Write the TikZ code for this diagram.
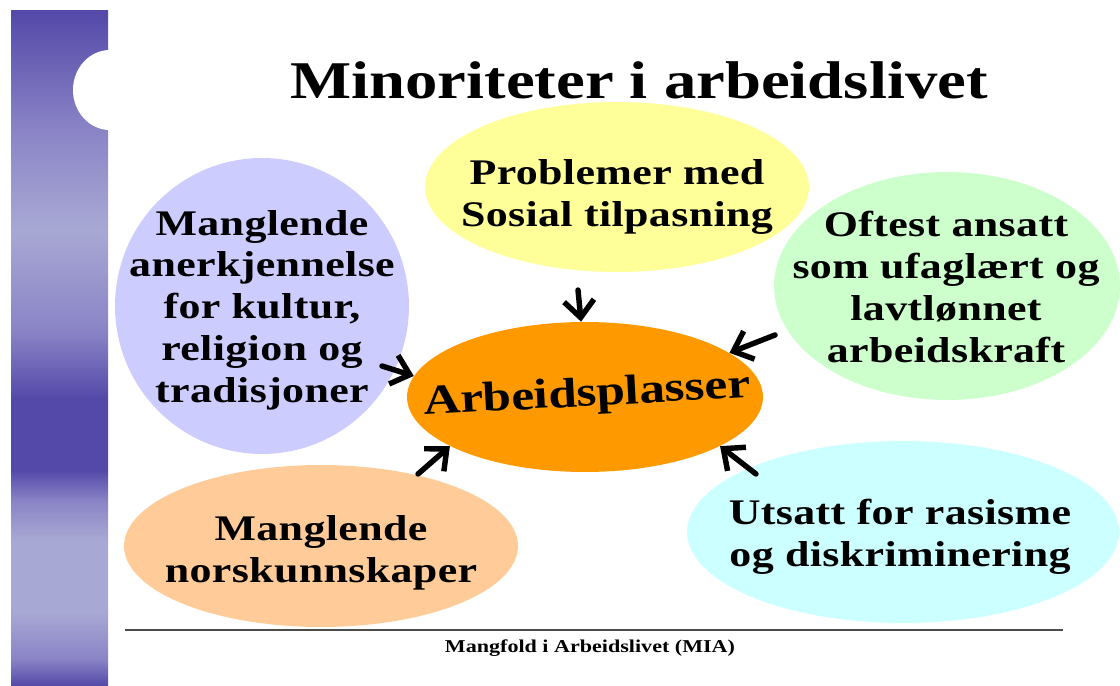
\documentclass[tikz,border=0pt]{standalone}
\usepackage{fontspec}
\setmainfont{Liberation Serif}[FakeStretch=1.22]
\newfontfamily\bobletekst{Liberation Serif}[FakeStretch=1.22,LetterSpace=1]
\usetikzlibrary{shapes.geometric,arrows.meta}

\definecolor{stripemork}{HTML}{5448A8}
\definecolor{stripemid}{HTML}{8A84C6}
\definecolor{stripelys}{HTML}{A8A8D4}
\definecolor{lilla}{HTML}{CCCCFF}
\definecolor{gul}{HTML}{FFFF99}
\definecolor{groenn}{HTML}{CCFFCC}
\definecolor{oransje}{HTML}{FF9900}
\definecolor{fersken}{HTML}{FFCC99}
\definecolor{turkis}{HTML}{CCFFFF}

% stripe til venstre, fra bunn til topp
\pgfdeclareverticalshading{stripe}{100bp}{%
  color(0bp)=(stripemork); color(25bp)=(stripemork);
  color(27bp)=(stripemid); color(30.5bp)=(stripelys);
  color(35.8bp)=(stripelys); color(38.7bp)=(stripemid);
  color(41bp)=(stripemork); color(46.2bp)=(stripemork);
  color(51.3bp)=(stripemid); color(58.8bp)=(stripelys);
  color(66.2bp)=(stripemid); color(75bp)=(stripemork);
  color(100bp)=(stripemork)}

\begin{document}
\begin{tikzpicture}[x=0.02cm,y=-0.02cm]

    % stiler
    \tikzset{
        boble/.style={ellipse, inner sep=0pt},
        tekst/.style={align=center, inner sep=0pt,
            font=\bobletekst\bfseries\fontsize{20.5}{23.8}\selectfont},
        pil/.style={line width=3.1pt, line cap=round,
            -{Straight Barb[length=3.4mm,width=6mm]}}
    }

    \useasboundingbox (0,0) rectangle (1120,686);

    % stripe med hakk
    \shade[shading=stripe] (11,11) rectangle (108,686);
    \fill[white] (110,90) ellipse [x radius=37, y radius=40];

    % tittel
    \node[anchor=base, inner sep=0pt, font=\bfseries\fontsize{30.2}{36}\selectfont]
        (tittel) at (639,99) {Minoriteter i arbeidslivet};

    % --- bobler ---
    \node[boble, fill=lilla, minimum width=5.88cm, minimum height=5.92cm] (kultur) at (262,306) {};
    \node[boble, fill=gul, minimum width=7.68cm, minimum height=3.4cm] (sosial) at (617,187) {};
    \node[boble, fill=groenn, minimum width=6.92cm, minimum height=4.56cm] (lonn) at (947,286) {};
    \node[boble, fill=fersken, minimum width=7.88cm, minimum height=3.24cm] (norsk) at (321,546) {};
    \node[boble, fill=turkis, minimum width=8.64cm, minimum height=3.64cm] (rasisme) at (903,532) {};
    \node[boble, fill=oransje, minimum width=7.12cm, minimum height=3cm] (arbeid) at (585,397) {};

    % tekst i boblene
    \node[tekst] (kulturtekst) at (262,310) {Manglende\\anerkjennelse\\for kultur,\\religion og\\tradisjoner};
    \node[tekst] (sosialtekst) at (617,197) {Problemer med\\Sosial tilpasning};
    \node[tekst] (lonntekst) at (946,287) {Oftest ansatt\\som ufaglært og\\lavtlønnet\\arbeidskraft};
    \node[tekst] (norsktekst) at (321,553) {Manglende\\norskunnskaper};
    \node[tekst] (rasismetekst) at (900,537) {Utsatt for rasisme\\og diskriminering};
    \node[rotate=3, inner sep=0pt, font=\bfseries\fontsize{23.9}{28}\selectfont]
        (arbeidtekst) at (587,396) {Arbeidsplasser};

    % piler inn mot midten
    \coordinate (fra1) at (578,290);
    \coordinate (fra2) at (382,366);
    \coordinate (fra3) at (775,335);
    \coordinate (fra4) at (418,474);
    \coordinate (fra5) at (756,474);
    \draw[pil] (fra1) -- (arbeid.93);
    \draw[pil] (fra2) -- (arbeid.173);
    \draw[pil] (fra3) -- (arbeid.17);
    \draw[pil] (fra4) -- (arbeid.200);
    \draw[pil] (fra5) -- (arbeid.340);

    % bunnlinje
    \draw[gray!60!black, line width=0.8pt] (125,630) -- (1063,630);
    \node[anchor=base, inner sep=0pt, font=\bfseries\fontsize{10.3}{12}\selectfont]
        (bunntekst) at (590,652) {Mangfold i Arbeidslivet (MIA)};

\end{tikzpicture}
\end{document}
